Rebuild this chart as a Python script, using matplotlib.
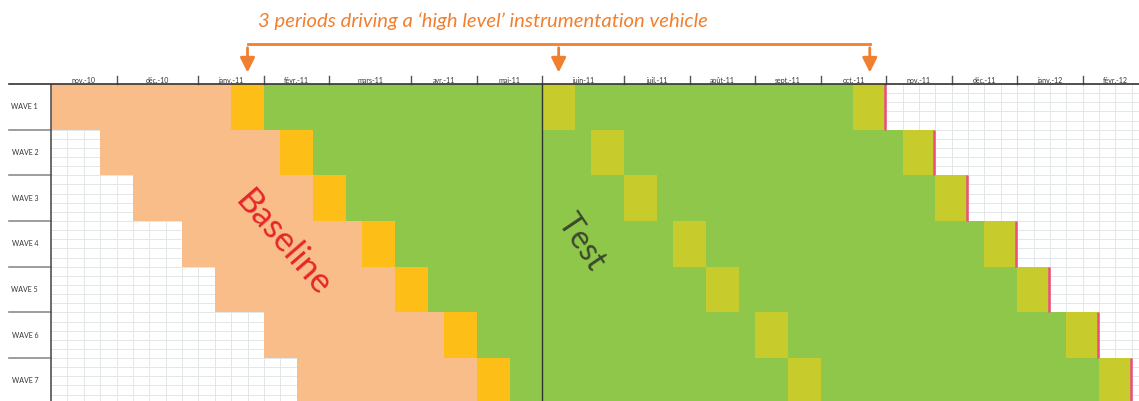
import matplotlib.pyplot as plt
import numpy as np

plt.rcParams['font.family'] = ['Lato', 'DejaVu Sans']

# Mois de l'en-tête et nombre de semaines par mois
months = ['nov.-10', 'déc.-10', 'janv.-11', 'févr.-11', 'mars-11', 'avr.-11', 'mai-11',
          'juin-11', 'juil.-11', 'août-11', 'sept.-11', 'oct.-11', 'nov.-11', 'déc.-11',
          'janv.-12', 'févr.-12']
weeks_per_month = [4, 5, 4, 4, 5, 4, 4, 5, 4, 4, 4, 4, 4, 4, 4, 4]

# Vagues et semaine de début du baseline
waves = ['WAVE 1', 'WAVE 2', 'WAVE 3', 'WAVE 4', 'WAVE 5', 'WAVE 6', 'WAVE 7']
wave_start = [0, 3, 5, 8, 10, 13, 15]

# Phases successives (durée en semaines)
phase_names = ['baseline', 'high1', 'test1', 'high2', 'test2', 'high3']
phase_weeks = [11, 2, 17, 2, 17, 2]
phase_colors = ['#F9BD8A', '#FCBE17', '#8FC74A', '#C8CB2C', '#8FC74A', '#C8CB2C']

test_start_week = 30
title = '3 periods driving a \u2018high level\u2019 instrumentation vehicle'

# Figure
fig = plt.figure(figsize=(11.39, 4.01), dpi=100)
ax = fig.add_axes([51 / 1139, 0, 1088 / 1139, 317 / 401])
ax.set_xlim(0, 66.44)
ax.set_ylim(6.94, 0)
ax.axis('off')

# Grille légère (semaines / sous-lignes)
for w in range(0, 67):
    ax.axvline(w, color='#E2E7EA', lw=0.7, zorder=0)
for yy in np.arange(0, 7.01, 0.2):
    ax.axhline(yy, color='#E2E7EA', lw=0.7, zorder=0)

# Barres
for i, start in enumerate(wave_start):
    left = start
    for w, c in zip(phase_weeks, phase_colors):
        ax.barh(i + 0.5, w, left=left, height=1.0, color=c, lw=0, zorder=2)
        left += w
    ax.vlines(left - 0.06, i, i + 1, color='#EC4F7E', lw=1.8, zorder=3)

# Séparation baseline / test
ax.vlines(test_start_week, -0.02, 7, color='#333333', lw=1.0, zorder=4)
ax.vlines(0, 0, 7, color='#555555', lw=1.2, zorder=4, clip_on=False)

# En-tête des mois
bounds = np.concatenate([[0], np.cumsum(weeks_per_month)])
ax.plot([-2.56, 66.44], [0, 0], color='#333333', lw=1.2, clip_on=False, zorder=5)
for k, m in enumerate(months):
    ax.text((bounds[k] + bounds[k + 1]) / 2, -0.085, m, ha='center', va='center',
            fontsize=5, color='#333333', clip_on=False)
for b in bounds[1:-1]:
    ax.plot([b, b], [-0.18, 0], color='#555555', lw=1.0, clip_on=False)

# Libellés des vagues
for i, name in enumerate(waves):
    ax.text(-1.6, i + 0.5, name, ha='center', va='center', fontsize=5,
            color='#333333', clip_on=False)
    if i > 0:
        ax.plot([-2.56, 0], [i, i], color='#8C8C8C', lw=1.2, clip_on=False)

# Textes Baseline / Test
ax.text(14.2, 3.5, 'Baseline', rotation=-49, ha='center', va='center',
        rotation_mode='anchor', fontsize=25, color='#E5262A', zorder=6)
ax.text(32.4, 3.46, 'Test', rotation=-56, ha='center', va='center',
        rotation_mode='anchor', fontsize=23, color='#3B4A2E', zorder=6)

# Accolade et flèches vers les périodes "high level" de la vague 1
orange = '#F08030'
cum = np.concatenate([[0], np.cumsum(phase_weeks)]) + wave_start[0]
arrow_x = [(cum[j] + cum[j + 1]) / 2 for j, n in enumerate(phase_names) if n.startswith('high')]
y_br = -0.875
ax.plot([arrow_x[0], arrow_x[-1]], [y_br, y_br], color=orange, lw=2, clip_on=False)
for x in arrow_x:
    ax.annotate('', xy=(x, -0.19), xytext=(x, y_br + 0.02),
                arrowprops=dict(arrowstyle='-|>', color=orange, lw=2, mutation_scale=22),
                annotation_clip=False)
ax.text(26.38, -1.37, title, ha='center', va='center', fontsize=14.6,
        style='italic', color=orange, clip_on=False)

fig.savefig('out.png', dpi=100)
